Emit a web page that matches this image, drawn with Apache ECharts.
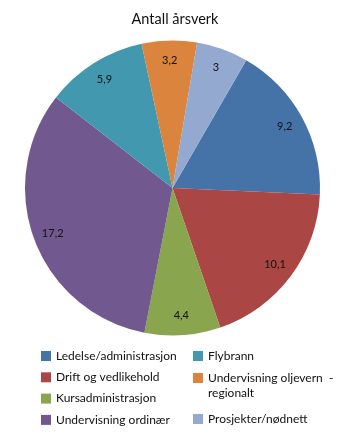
<!DOCTYPE html>
<html>
<head>
<meta charset="utf-8">
<script src="https://cdn.jsdelivr.net/npm/echarts@6/dist/echarts.min.js"></script>
<style>
  html, body { margin: 0; padding: 0; background: #fff; }
  #chart { width: 350px; height: 444px; }
</style>
</head>
<body>
<div id="chart"></div>
<script>
// Årsverk per område
const categories = [
  'Ledelse/administrasjon',
  'Drift og vedlikehold',
  'Kursadministrasjon',
  'Undervisning ordinær',
  'Flybrann',
  'Undervisning oljevern - regionalt',
  'Prosjekter/nødnett'
];
const values = [9.2, 10.1, 4.4, 17.2, 5.9, 3.2, 3];
const colors = ['#4572A7', '#AA4643', '#89A54E', '#71588F', '#4198AF', '#DB843D', '#93A9CF'];

const FONT = 'Lato, "Liberation Sans", sans-serif';
const fmtNum = v => String(v).replace('.', ',');

const pieData = categories.map((name, i) => ({ name, value: values[i], itemStyle: { color: colors[i] } }));
const labelData = categories.map((name, i) => ({ name, value: values[i] }));

const legendText = { fontFamily: FONT, fontSize: 12, color: '#111', lineHeight: 14 };
const legendBase = {
  orient: 'vertical', padding: 0, itemWidth: 10, itemHeight: 10, icon: 'rect',
  selectedMode: false, itemGap: 7.3, textStyle: legendText
};

const chart = echarts.init(document.getElementById('chart'));
chart.setOption({
  animation: false,
  title: {
    text: 'Antall årsverk', left: 'center', top: 7,
    textStyle: { fontFamily: FONT, fontSize: 14.5, fontWeight: 'normal', color: '#111' }
  },
  legend: [
    Object.assign({}, legendBase, { left: 41, top: 349, data: categories.slice(0, 4) }),
    Object.assign({}, legendBase, { left: 193, top: 349, data: [categories[4]] }),
    Object.assign({}, legendBase, {
      left: 193, top: 355.5, data: [categories[5]],
      formatter: () => ' \nUndervisning oljevern  -\nregionalt',
      textStyle: Object.assign({}, legendText, { lineHeight: 15 })
    }),
    Object.assign({}, legendBase, { left: 193, top: 412, data: [categories[6]] })
  ],
  series: [
    {
      type: 'pie', center: [172.5, 188], radius: [0, 147.5], startAngle: 60,
      clockwise: true, silent: true, label: { show: false }, labelLine: { show: false },
      emphasis: { disabled: true }, data: pieData
    },
    {
      // ring that carries the value labels
      type: 'pie', center: [172.5, 188], radius: [102, 148], startAngle: 60,
      clockwise: true, silent: true, itemStyle: { color: 'transparent' },
      emphasis: { disabled: true }, labelLine: { show: false },
      label: {
        show: true, position: 'inside', fontFamily: FONT, fontSize: 11, color: '#111',
        formatter: p => fmtNum(p.value)
      },
      data: labelData
    }
  ]
});
</script>
</body>
</html>
